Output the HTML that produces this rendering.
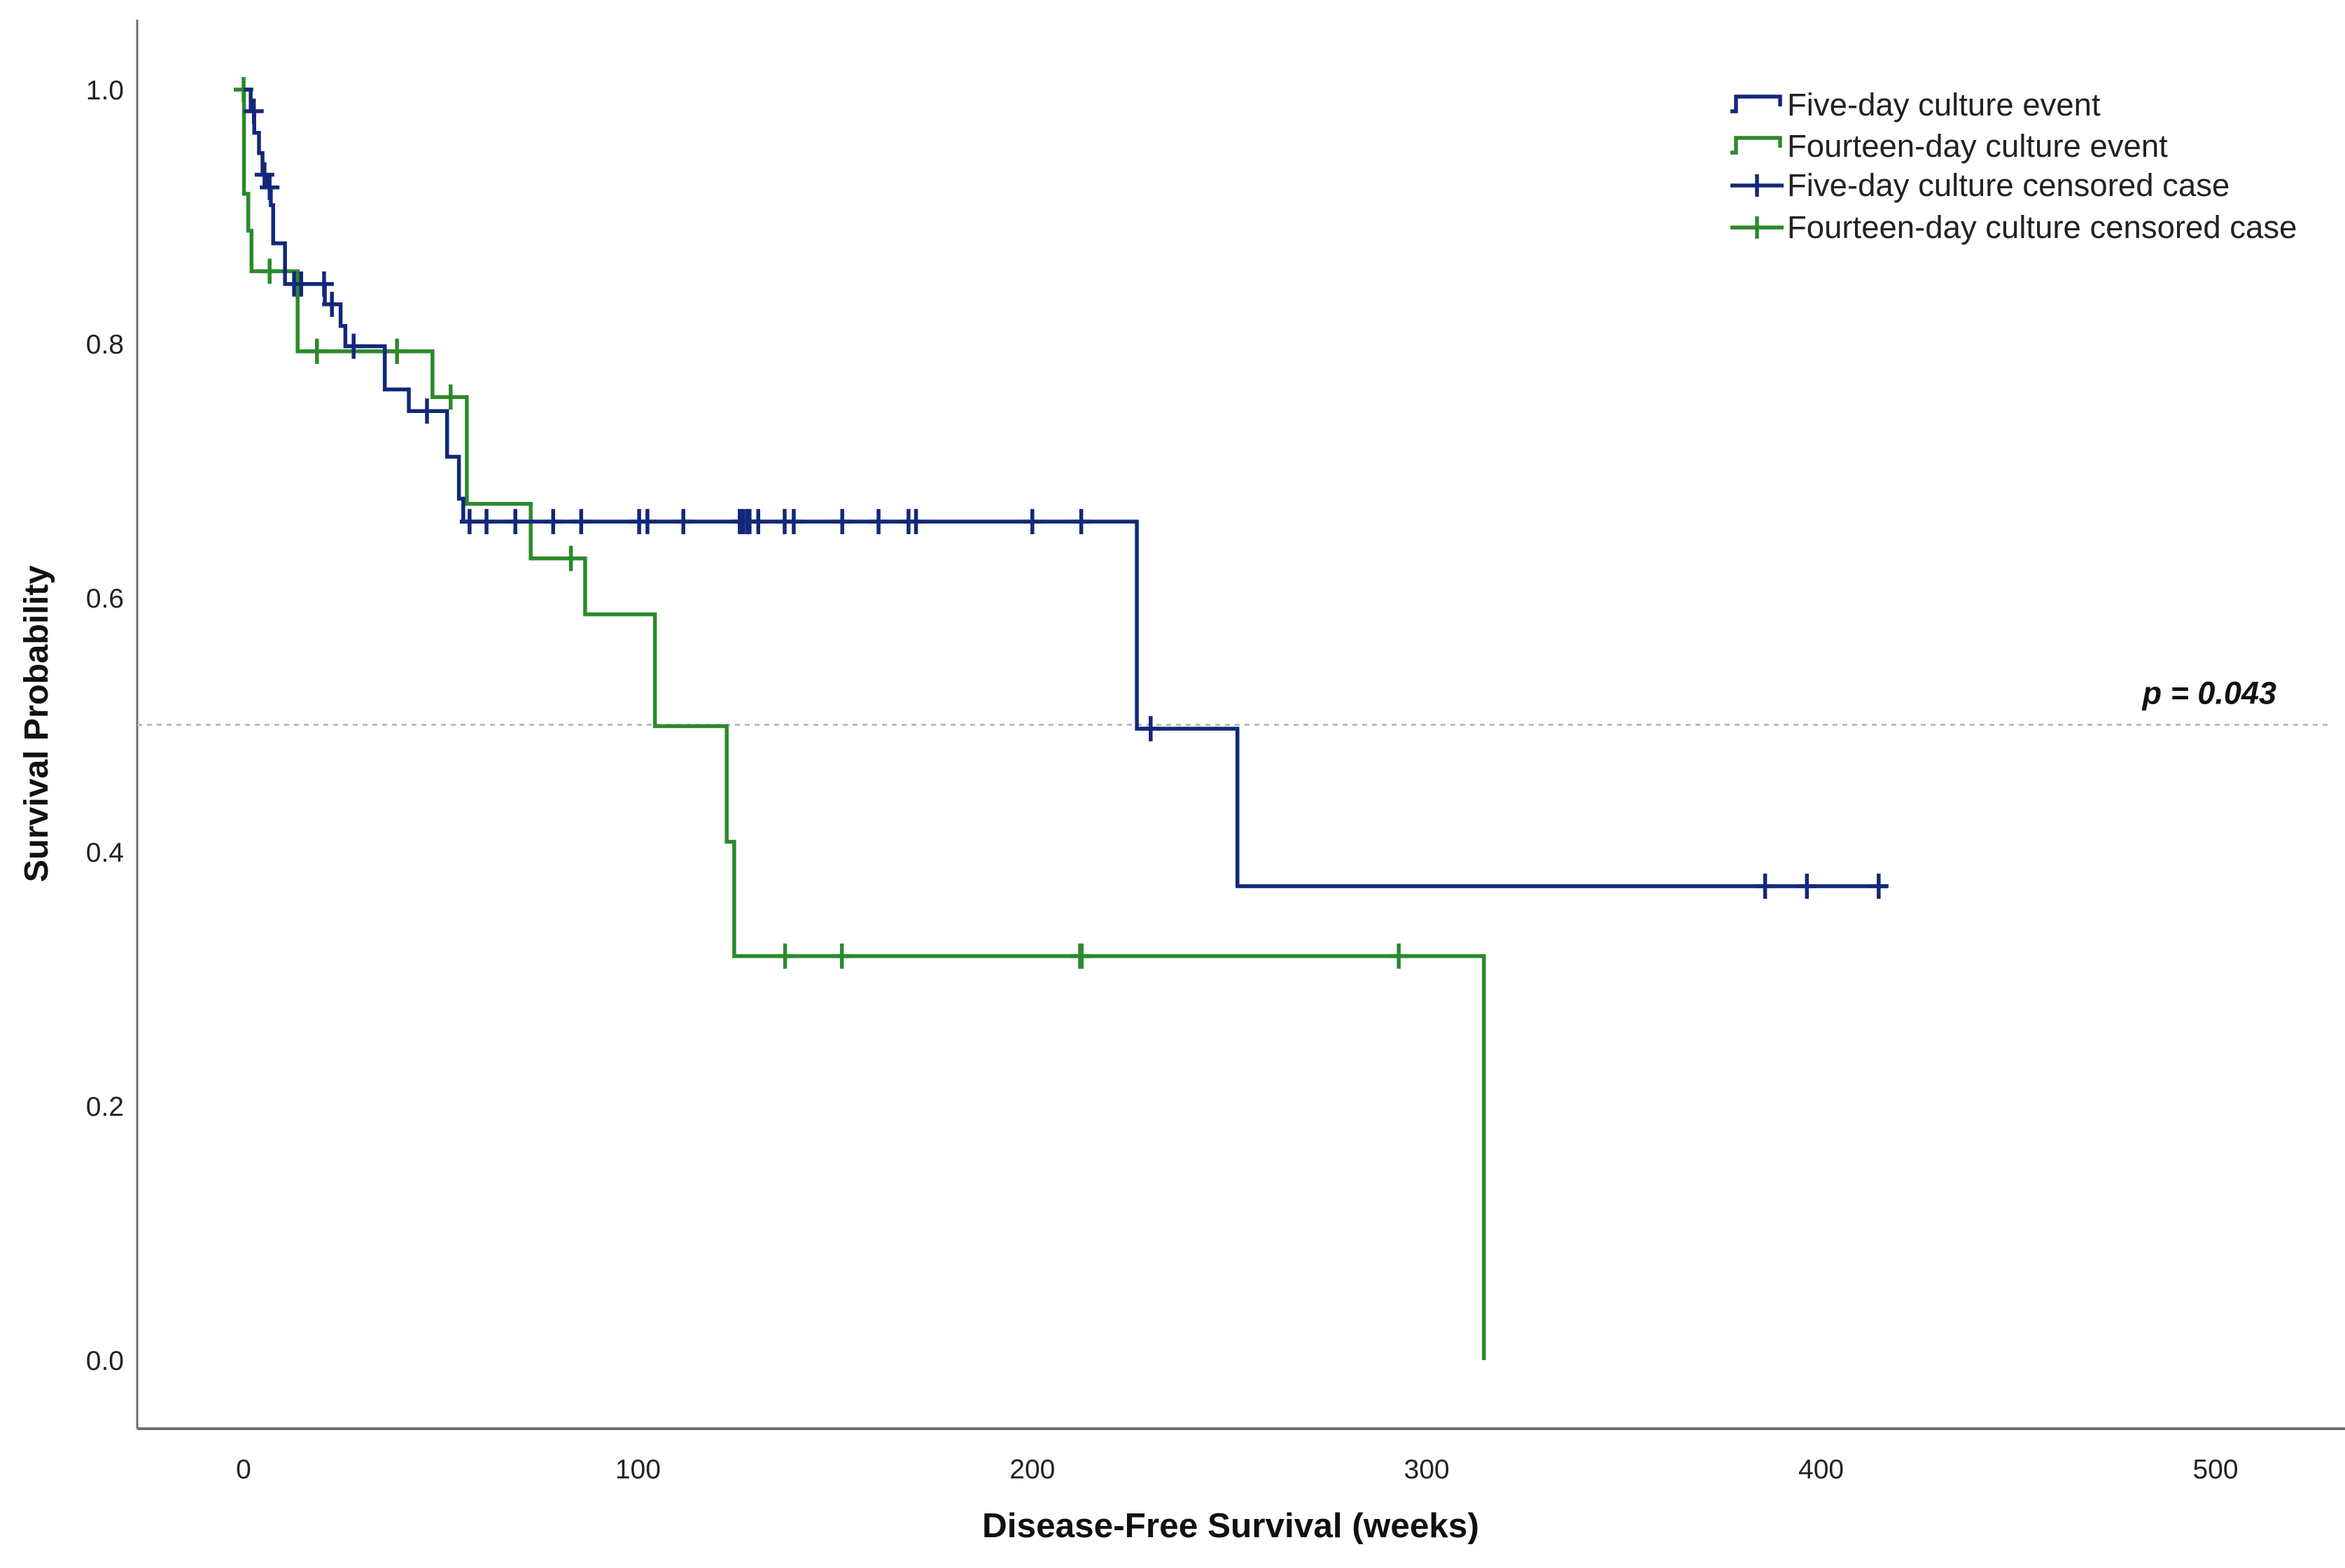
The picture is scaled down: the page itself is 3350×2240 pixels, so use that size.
<!DOCTYPE html>
<html><head><meta charset="utf-8"><style>
html,body{margin:0;padding:0;background:#fff}
svg{display:block}
text{font-family:"Liberation Sans",sans-serif}
</style></head><body>
<svg id="chart" width="3350" height="2240" viewBox="0 0 3350 2240">
<g id="axes"></g><g id="plot"></g><g id="legend"></g>
</svg>
<script>
const xTicks=[0,100,200,300,400,500];
const yTicks=[0.0,0.2,0.4,0.6,0.8,1.0];
const fiveTimes=[0,1.8,2.7,3.9,4.8,5.7,6.9,7.5,10.5,20.6,24.6,25.8,35.8,41.9,51.6,54.6,55.7,226.5,252,417];
const fiveSurv=[1,0.983,0.966,0.95,0.933,0.923,0.909,0.879,0.847,0.831,0.814,0.798,0.764,0.747,0.711,0.678,0.66,0.497,0.373,0.373];
const fiveCensT=[2.6,5.3,6.6,12.8,14.6,20.4,22.4,27.9,46.5,57.3,61.6,68.9,78.5,85.6,100.3,102.4,111.5,125.8,126.6,127.6,128.3,130.5,137.2,139.5,151.8,161,168.6,170.5,200,212.4,230,385.8,396.4,414.6];
const fourTimes=[0,0.1,1.2,2,13.7,47.9,56.6,72.8,86.6,104.3,122.5,124.4,314.5];
const fourSurv=[1,0.918,0.889,0.857,0.794,0.758,0.674,0.631,0.587,0.499,0.408,0.318,0.0];
const fourCensT=[0,6.6,18.6,38.9,52.5,83,137.3,151.7,212.1,212.5,292.9];
const refLine=0.5;
const pText="p = 0.043";

const NS="http://www.w3.org/2000/svg";
const X0=348,XS=5.634,Y0=1943,YS=1815;
const sx=t=>X0+t*XS, sy=s=>Y0-s*YS;
function mk(tag,attrs,parent){const e=document.createElementNS(NS,tag);for(const k in attrs)e.setAttribute(k,attrs[k]);parent.appendChild(e);return e;}
const axes=document.getElementById('axes'),plot=document.getElementById('plot'),leg=document.getElementById('legend');

let a=mk('line',{x1:196,y1:28,x2:196,y2:2041,stroke:'#707070','stroke-width':3},axes);

a=mk('line',{x1:196,y1:2041,x2:3350,y2:2041,stroke:'#707070','stroke-width':4},axes);

yTicks.forEach(v=>{const t=mk('text',{x:177,y:sy(v)+14,'text-anchor':'end','font-size':39,fill:'#222'},axes);t.textContent=v.toFixed(1);
});
xTicks.forEach(v=>{const t=mk('text',{x:sx(v),y:2112,'text-anchor':'middle','font-size':39,fill:'#222'},axes);t.textContent=v;
});
let tt=mk('text',{x:1758,y:2196,'text-anchor':'middle','font-size':49.5,'font-weight':'bold',fill:'#111'},axes);tt.textContent='Disease-Free Survival (weeks)';

tt=mk('text',{x:68,y:1034,'text-anchor':'middle','font-size':48.5,'font-weight':'bold',fill:'#111',transform:'rotate(-90 68 1034)'},axes);tt.textContent='Survival Probability';


let r=mk('line',{x1:196,y1:sy(refLine),x2:3330,y2:sy(refLine),stroke:'#bbb','stroke-width':3,'stroke-dasharray':'7 7'},plot);

tt=mk('text',{x:3252,y:sy(refLine)-30,'text-anchor':'end','font-size':45,'font-weight':'bold','font-style':'italic',fill:'#111'},plot);tt.textContent=pText;


function stepPath(T,S){let d='M'+sx(T[0])+','+sy(S[0]);for(let i=1;i<T.length;i++){d+=' H'+sx(T[i])+' V'+sy(S[i]);}return d;}
function survAt(T,S,t){let s=S[0];for(let i=0;i<T.length;i++){if(T[i]<=t)s=S[i];}return s;}
function series(T,S,C,color,name){
 const p=mk('path',{d:stepPath(T,S),fill:'none',stroke:color,'stroke-width':5.5},plot);
 
 C.forEach(t=>{const x=sx(t),y=sy(survAt(T,S,t));
  const g=mk('path',{d:`M${x},${y-18} V${y+18} M${x-14},${y} H${x+14}`,stroke:color,'stroke-width':5.5,fill:'none'},plot);
  });
}
series(fourTimes,fourSurv,fourCensT,'#2b8a2b','fourteen-day');
series(fiveTimes,fiveSurv,fiveCensT,'#13287a','five-day');

const items=[['Five-day culture event','#13287a','ev'],['Fourteen-day culture event','#2b8a2b','ev'],['Five-day culture censored case','#13287a','ce'],['Fourteen-day culture censored case','#2b8a2b','ce']];
const rows=[150,209,265,325];
items.forEach((it,i)=>{const y=rows[i];
 const g=mk('g',{},leg);
 if(it[2]==='ev') mk('path',{d:`M2472,${y+9} H2480 V${y-12} H2543 V${y+2}`,fill:'none',stroke:it[1],'stroke-width':5.5},g);
 else mk('path',{d:`M2472,${y} H2548 M2510,${y-16} V${y+16}`,fill:'none',stroke:it[1],'stroke-width':5.5},g);
 const t=mk('text',{x:2553,y:y+15,'font-size':45.5,fill:'#222'},g);t.textContent=it[0];});
</script>
</body></html>
